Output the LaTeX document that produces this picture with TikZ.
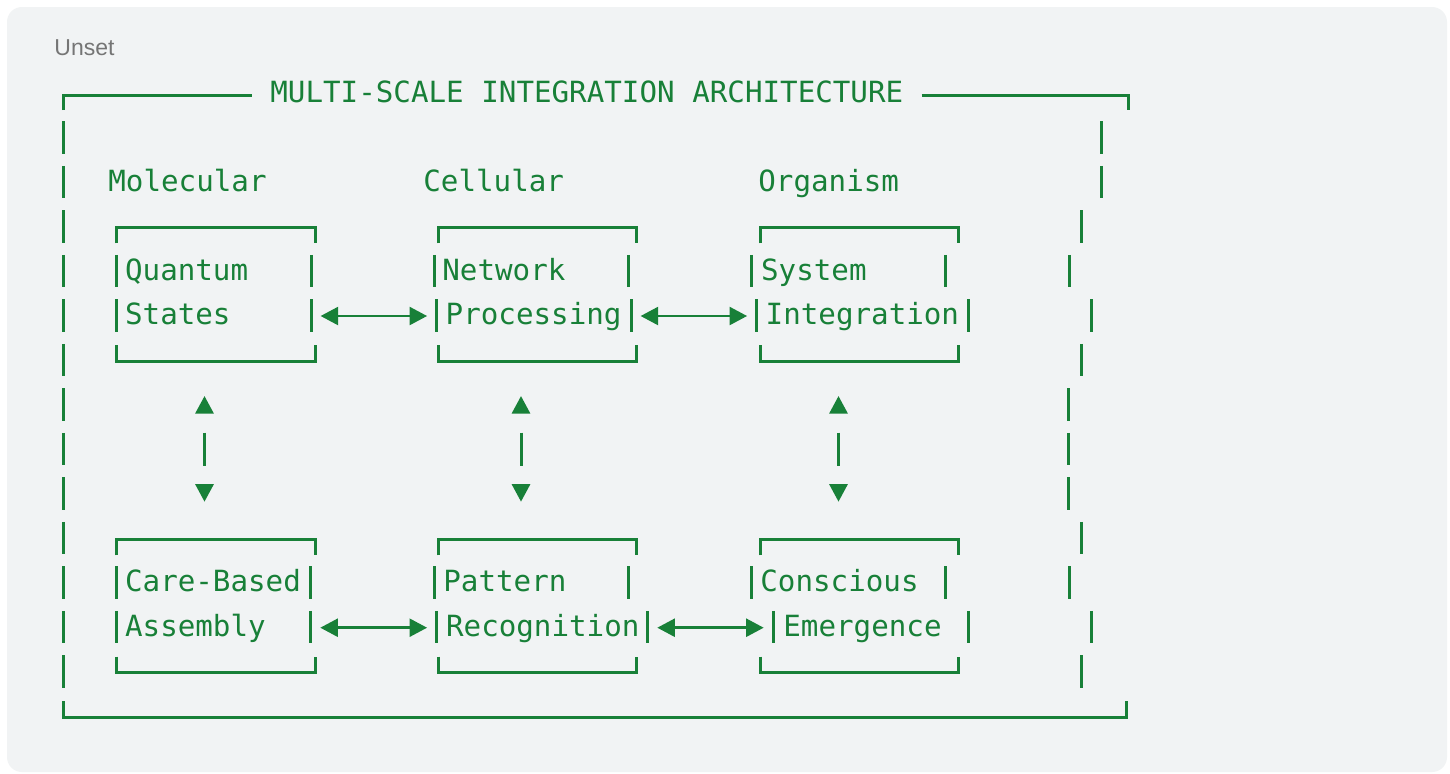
\documentclass[tikz,border=0pt]{standalone}
\usepackage{fontspec}
\setmonofont{DejaVu Sans Mono}
\setsansfont{Liberation Sans}
\usetikzlibrary{arrows.meta}
\definecolor{CodeGreen}{RGB}{24,128,56}
\definecolor{PanelGray}{RGB}{241,243,244}
\definecolor{TagGray}{RGB}{117,117,117}

\begin{document}
\begin{tikzpicture}[x=0.5pt,y=-0.5pt,
  art/.style={draw=CodeGreen,line width=1.5pt},
  ascii/.style={text=CodeGreen,font=\ttfamily\fontsize{14.6pt}{17pt}\selectfont,anchor=base west,inner sep=0pt},
  duo/.style={art,line width=1.3pt,{Triangle[length=8.8pt,width=9pt]}-{Triangle[length=8.8pt,width=9pt]},shorten <=4.8pt,shorten >=4.8pt},
  updown/.style={art,{Triangle[length=8.8pt,width=9pt]}-{Triangle[length=8.8pt,width=9pt]},dash pattern=on 0pt off 9.85pt on 16.7pt off 40pt}]
\useasboundingbox (0,0) rectangle (1450,773);
\fill[white] (0,0) rectangle (1450,773);
\fill[PanelGray,rounded corners=7.5pt] (7,7) rectangle (1447,772);
\node[anchor=base west,inner sep=0pt,text=TagGray,font=\sffamily\fontsize{11.5pt}{14pt}\selectfont] (tag) at (54,55) {Unset};

% outer frame
\node[ascii] (title) at (270,102) {MULTI-SCALE INTEGRATION ARCHITECTURE};
\draw[art] (63.3,110) -- (63.3,95) -- (252,95);
\draw[art] (921.7,95) -- (1128.3,95) -- (1128.3,110);
\draw[art] (63.3,701) -- (63.3,717) -- (1126,717) -- (1126,701);
\foreach \r in {1,...,13}
  \draw[art] (63.3,{76.8+44.5*\r}) -- ++(0,32.6);
\foreach \x/\r in {1101.7/1,1101.7/2,1081/3,1069/4,1091.7/5,1081/6,1068/7,1068/8,1068/9,1081/10,1069/11,1091.7/12,1081/13}
  \draw[art] (\x,{76.8+44.5*\r}) -- ++(0,32.6);

% scale headings
\node[ascii] (molecular) at (108,191) {Molecular};
\node[ascii] (cellular) at (423,191) {Cellular};
\node[ascii] (organism) at (758,191) {Organism};

% boxes
\foreach \l/\rr/\t/\b in {116/315/227.3/361.3,438.3/636.7/227.3/361.3,760/958.3/227.3/361.3,116/315/539.3/672.5,438.3/636.7/539.3/672.5,760/958.3/539.3/672.5}{
  \draw[art] (\l,{\t+16}) -- (\l,\t) -- (\rr,\t) -- (\rr,{\t+16});
  \draw[art] (\l,{\b-16}) -- (\l,\b) -- (\rr,\b) -- (\rr,{\b-16});
}
\foreach \x/\r in {116.7/4,311/4,434/4,628.3/4,751.7/4,945/4,116.7/5,311/5,436.7/5,631/5,756.7/5,968.3/5,116.7/11,310.7/11,434/11,628.3/11,751.7/11,945.7/11,116.7/12,310.7/12,436.7/12,647.7/12,773.3/12,968.3/12}
  \draw[art] (\x,{76.8+44.5*\r}) -- ++(0,32.6);

\node[ascii] (quantum) at (124.7,280) {Quantum};
\node[ascii] (states) at (124.7,324.5) {States};
\node[ascii] (network) at (442,280) {Network};
\node[ascii] (processing) at (445.3,324.5) {Processing};
\node[ascii] (system) at (760.7,280) {System};
\node[ascii] (integration) at (765.3,324.5) {Integration};
\node[ascii] (care) at (124.7,591.5) {Care-Based};
\node[ascii] (assembly) at (124.7,636) {Assembly};
\node[ascii] (pattern) at (443,591.5) {Pattern};
\node[ascii] (recognition) at (445.7,636) {Recognition};
\node[ascii] (conscious) at (760,591.5) {Conscious};
\node[ascii] (emergence) at (783,636) {Emergence};

% links
\coordinate (qR) at (311,316);   \coordinate (nL) at (436.7,316);
\coordinate (nR) at (631,316);   \coordinate (sL) at (756.7,316);
\coordinate (cR) at (310.7,627.7); \coordinate (pL) at (436.7,627.7);
\coordinate (pR) at (647.7,627.7); \coordinate (eL) at (773.3,627.7);
\draw[duo] (qR) -- (nL);
\draw[duo] (nR) -- (sL);
\draw[duo] (cR) -- (pL);
\draw[duo] (pR) -- (eL);

\coordinate (molUp) at (204.5,396);  \coordinate (molDn) at (204.5,501.7);
\coordinate (celUp) at (521,396);    \coordinate (celDn) at (521,501.7);
\coordinate (orgUp) at (838.5,396);  \coordinate (orgDn) at (838.5,501.7);
\draw[updown] (molUp) -- (molDn);
\draw[updown] (celUp) -- (celDn);
\draw[updown] (orgUp) -- (orgDn);
\end{tikzpicture}
\end{document}
